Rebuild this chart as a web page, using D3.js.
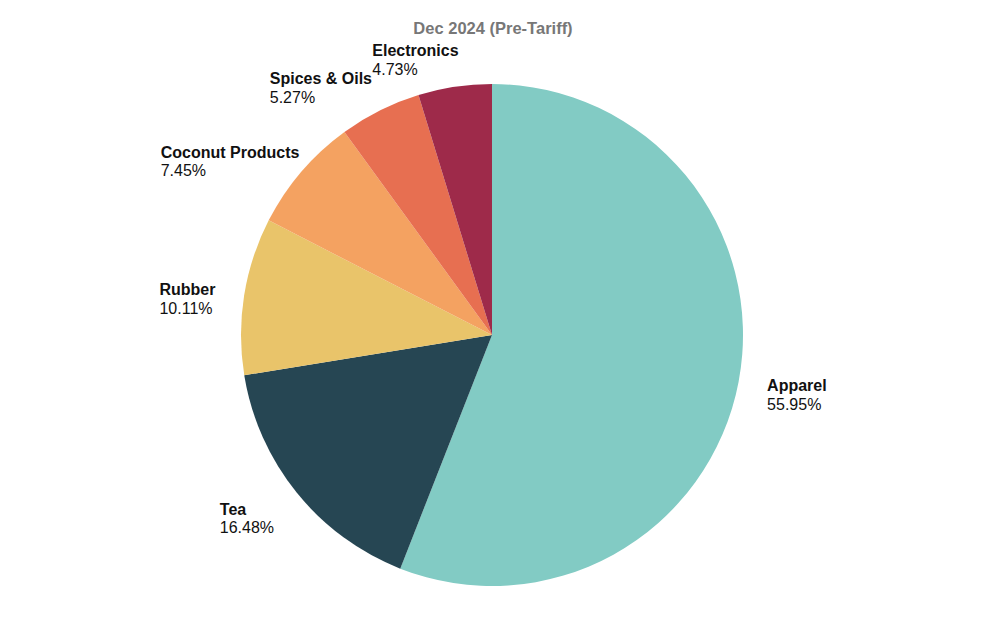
<!DOCTYPE html>
<html><head><meta charset="utf-8">
<script src="https://cdn.jsdelivr.net/npm/d3@7"></script>
<style>
body{margin:0;background:#fff;}
text{font-family:"Liberation Sans","Arial",sans-serif;}
</style></head>
<body>
<svg id="chart" width="985" height="630"></svg>
<script>
const title = "Dec 2024 (Pre-Tariff)";
const categories = ["Apparel","Tea","Rubber","Coconut Products","Spices & Oils","Electronics"];
const values = [55.95,16.48,10.11,7.45,5.27,4.73];
const colors = ["#82cbc4","#264653","#e9c46a","#f4a261","#e76f51","#9e2a4a"];

const W=985,H=630,cx=492,cy=335,r=251,lr=280;
const svg=d3.select("#chart");
svg.append("text").attr("x",cx+1).attr("y",34).attr("text-anchor","middle")
  .attr("font-size",16.5).attr("font-weight","bold").attr("fill","#777").text(title);

const data=categories.map((c,i)=>({name:c,value:values[i],color:colors[i]}));
const pie=d3.pie().value(d=>d.value).sort(null);
const arcs=pie(data);
const arc=d3.arc().innerRadius(0).outerRadius(r);
const g=svg.append("g").attr("transform",`translate(${cx},${cy})`);
g.selectAll("path").data(arcs).join("path").attr("d",arc).attr("fill",d=>d.data.color);

// small layout nudges to avoid label crowding near the top
const nudge = {3:[20,-1],4:[5,-6],5:[8,-8]};
arcs.forEach((a,i)=>{
  const m=(a.startAngle+a.endAngle)/2;
  const n=nudge[i]||[0,-2];
  const x=lr*Math.sin(m)+n[0], y=-lr*Math.cos(m)+n[1];
  const t1=g.append("text").attr("font-size",16).attr("font-weight","bold").attr("fill","#111")
    .attr("y",y+6).text(a.data.name);
  const t2=g.append("text").attr("font-size",16).attr("fill","#111")
    .attr("y",y+24.5).text(d3.format(".2f")(a.data.value)+"%");
  const w=Math.max(t1.node().getComputedTextLength(),t2.node().getComputedTextLength());
  const bx = Math.sin(m)>=0 ? x : x-w;
  t1.attr("x",bx); t2.attr("x",bx);
});
</script>
</body></html>
